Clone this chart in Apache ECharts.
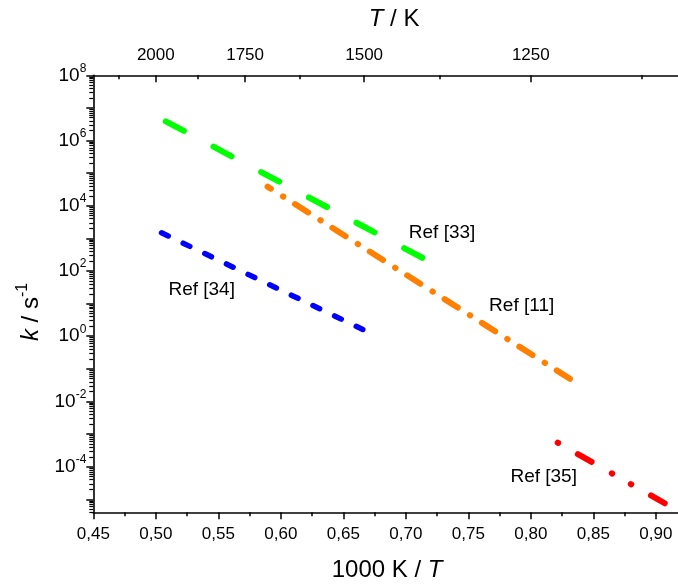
<!DOCTYPE html>
<html><head><meta charset="utf-8">
<script src="https://cdn.jsdelivr.net/npm/echarts@6/dist/echarts.min.js"></script>
<style>html,body{margin:0;padding:0;background:#fff}#c{width:678px;height:584px}</style>
</head><body><div id="c"></div>
<script>
// ---- data ----
const ref33X = [0.508, 0.7134];
const ref33K = [3.89e6, 252];
const ref11X = [0.5894, 0.832];
const ref11K = [3.87e4, 0.0476];
const ref34X = [0.5046, 0.6656];
const ref34K = [1486, 1.61];
const ref35X = [0.8215, 0.9079];
const ref35K = [5.45e-4, 7.3e-6];
const labelNames = ['Ref [33]', 'Ref [11]', 'Ref [34]', 'Ref [35]'];
const labelX = [0.729, 0.7927, 0.5367, 0.8103];
const labelK = [1466, 8.47, 26.2, 4.84e-5];
// ---- axis ticks ----
const xTicks = [0.45, 0.50, 0.55, 0.60, 0.65, 0.70, 0.75, 0.80, 0.85, 0.90];
const xMinorTicks = [0.475, 0.525, 0.575, 0.625, 0.675, 0.725, 0.775, 0.825, 0.875];
const topTicksT = [2000, 1750, 1500, 1250];
const topMinorT = [2125, 1875, 1625, 1375, 1125];
const yLabelExp = [-4, -2, 0, 2, 4, 6, 8];
const yMajorExp = [-5, -4, -3, -2, -1, 0, 1, 2, 3, 4, 5, 6, 7, 8];
const yMinorMant = [2, 3, 4, 5, 6, 7, 8, 9];

const X_MIN = 0.45, X_MAX = 0.92, Y_MIN = 4e-6, Y_MAX = 1e8;
const FONT = "'Liberation Sans', Arial, sans-serif";

const yMajorVals = yMajorExp.map(e => Math.pow(10, e));
const yLabelVals = yLabelExp.map(e => Math.pow(10, e));
const yMinorVals = [];
for (let e = -6; e <= 7; e++) for (const m of yMinorMant) {
  const v = m * Math.pow(10, e);
  if (v >= Y_MIN && v <= Y_MAX) yMinorVals.push(v);
}
const topVals = topTicksT.map(t => 1000 / t);
const topMinorVals = topMinorT.map(t => 1000 / t);

const lineCol = '#000';
const axW = 1.6;

function lineSeries(name, xs, ks, color, width, dash, offset) {
  return {
    name, type: 'line', xAxisIndex: 0, yAxisIndex: 0,
    data: xs.map((x, i) => [x, ks[i]]),
    showSymbol: false, symbol: 'none', silent: true,
    lineStyle: { color, width, type: dash, dashOffset: offset, cap: 'round' }
  };
}

const chart = echarts.init(document.getElementById('c'), null, { renderer: 'canvas' });
chart.setOption({
  animation: false,
  backgroundColor: '#fff',
  textStyle: { fontFamily: FONT },
  grid: { left: 93.3, right: -2.8, top: 75.3, bottom: 71.7, outerBoundsMode: 'none', containLabel: false },
  xAxis: [
    {
      type: 'value', position: 'bottom', min: X_MIN, max: X_MAX,
      axisLine: { show: true, onZero: false, lineStyle: { color: lineCol, width: axW } },
      axisTick: { show: true, inside: false, length: 7, customValues: xTicks, lineStyle: { color: lineCol, width: 1.5 } },
      axisLabel: { show: true, customValues: xTicks, margin: 14, fontSize: 17, color: '#000', fontFamily: FONT,
        formatter: v => v.toFixed(2).replace('.', ',') },
      splitLine: { show: false },
      name: '1000 K / {i|T}', nameLocation: 'middle', nameGap: 46,
      nameTextStyle: { fontSize: 24, color: '#000', fontFamily: FONT,
        rich: { i: { fontSize: 24, fontStyle: 'italic', color: '#000', fontFamily: FONT } } }
    },
    {
      type: 'value', position: 'bottom', min: X_MIN, max: X_MAX,
      axisLine: { show: false, onZero: false },
      axisTick: { show: true, inside: false, length: 4, customValues: xMinorTicks, lineStyle: { color: lineCol, width: 1.5 } },
      axisLabel: { show: false }, splitLine: { show: false }
    },
    {
      type: 'value', position: 'top', min: X_MIN, max: X_MAX,
      axisLine: { show: true, onZero: false, lineStyle: { color: lineCol, width: axW } },
      axisTick: { show: true, inside: true, length: 7, customValues: topVals, lineStyle: { color: lineCol, width: 1.5 } },
      axisLabel: { show: true, customValues: topVals, margin: 11, fontSize: 17, color: '#000', fontFamily: FONT,
        formatter: v => String(Math.round(1000 / v)) },
      splitLine: { show: false },
      name: '{i|T} / K', nameLocation: 'middle', nameGap: 44,
      nameTextStyle: { fontSize: 24, color: '#000', fontFamily: FONT, padding: [0, 0, 0, 14],
        rich: { i: { fontSize: 24, fontStyle: 'italic', color: '#000', fontFamily: FONT } } }
    },
    {
      type: 'value', position: 'top', min: X_MIN, max: X_MAX,
      axisLine: { show: false, onZero: false },
      axisTick: { show: true, inside: true, length: 4, customValues: topMinorVals, lineStyle: { color: lineCol, width: 1.5 } },
      axisLabel: { show: false }, splitLine: { show: false }
    }
  ],
  yAxis: [
    {
      type: 'log', logBase: 10, min: Y_MIN, max: Y_MAX, position: 'left',
      axisLine: { show: true, onZero: false, lineStyle: { color: lineCol, width: axW } },
      axisTick: { show: true, inside: false, length: 7, customValues: yMajorVals, lineStyle: { color: lineCol, width: 1.5 } },
      axisLabel: {
        show: true, customValues: yLabelVals, margin: 7, color: '#000', fontFamily: FONT,
        formatter: v => '{b|10}{s|' + Math.round(Math.log10(v)) + '}',
        rich: {
          b: { fontSize: 19, lineHeight: 26, color: '#000', fontFamily: FONT },
          s: { fontSize: 12, lineHeight: 12, verticalAlign: 'top', color: '#000', fontFamily: FONT }
        }
      },
      splitLine: { show: false }, minorTick: { show: false }
    },
    {
      type: 'log', logBase: 10, min: Y_MIN, max: Y_MAX, position: 'left',
      axisLine: { show: false, onZero: false },
      axisTick: { show: true, inside: false, length: 4, customValues: yMinorVals, lineStyle: { color: lineCol, width: 1.2 } },
      axisLabel: { show: false }, splitLine: { show: false }
    }
  ],
  series: [
    lineSeries('Ref [33]', ref33X, ref33K, '#00FF00', 6, [20.5, 33.5], 0),
    lineSeries('Ref [11]', ref11X, ref11K, '#FF8000', 6, [15.7, 14.3, 0.5, 13.8], 11.8),
    lineSeries('Ref [34]', ref34X, ref34K, '#0000FF', 5.5, [7.4, 16.6], 0),
    lineSeries('Ref [35]', ref35X, ref35K, '#FF0000', 6, [15.8, 23.2, 0.5, 21.3, 0.5, 22.7], 60.8),
    {
      name: 'labels', type: 'scatter', xAxisIndex: 0, yAxisIndex: 0, silent: true,
      symbol: 'circle', symbolSize: 2, itemStyle: { color: 'rgba(255,255,255,0)', opacity: 1 },
      data: labelNames.map((n, i) => ({ name: n, value: [labelX[i], labelK[i]] })),
      label: { show: true, position: 'inside', formatter: '{b}', fontSize: 19, color: '#000', opacity: 1, fontFamily: FONT },
      labelLayout: { hideOverlap: false }
    }
  ],
  graphic: [{
    type: 'text', x: 31, y: 312, rotation: Math.PI / 2, silent: true,
    style: {
      text: '{i|k} / s{s|-1}', align: 'center', verticalAlign: 'middle',
      fontFamily: FONT, fontSize: 24, fill: '#000',
      rich: {
        i: { fontSize: 24, fontStyle: 'italic', lineHeight: 32, fontFamily: FONT, fill: '#000' },
        s: { fontSize: 16, lineHeight: 16, verticalAlign: 'top', fontFamily: FONT, fill: '#000' }
      }
    }
  }]
});
</script>
</body></html>
